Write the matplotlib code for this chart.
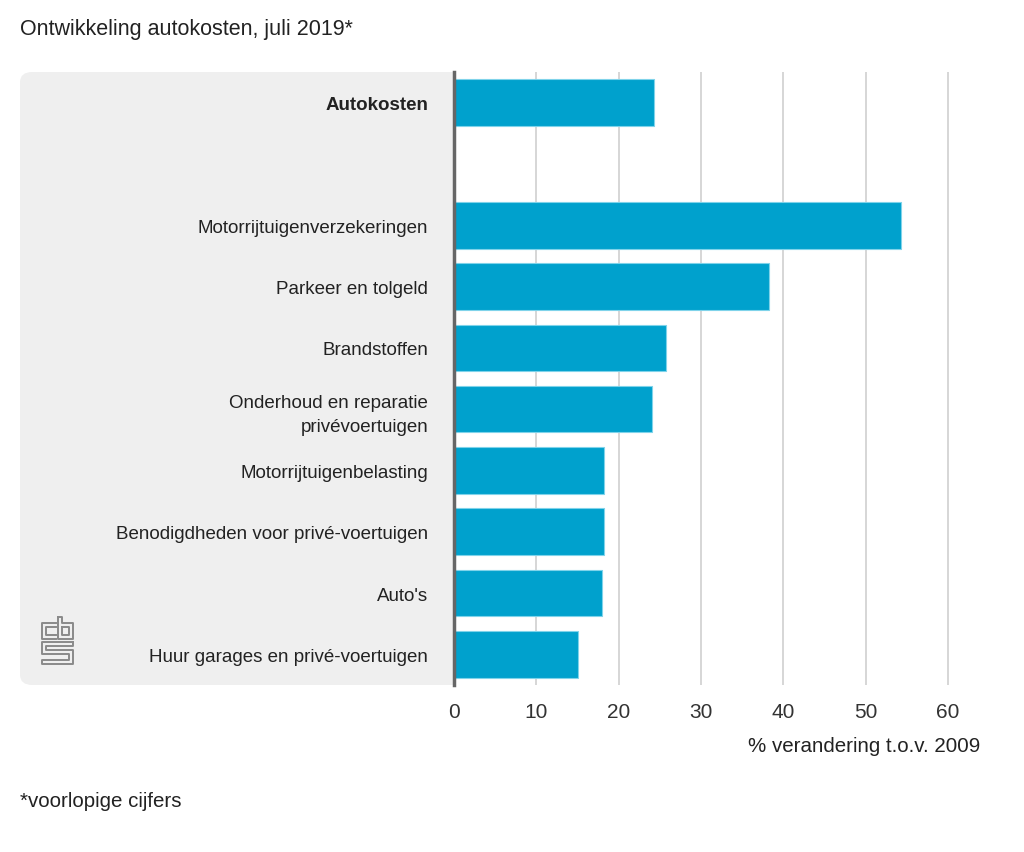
import matplotlib
matplotlib.use("Agg")
import matplotlib.pyplot as plt
from matplotlib.patches import FancyBboxPatch
from matplotlib.lines import Line2D

plt.rcParams['font.family'] = ['Liberation Sans', 'DejaVu Sans']

categories = ["Autokosten", "", "Motorrijtuigenverzekeringen", "Parkeer en tolgeld",
              "Brandstoffen", "Onderhoud en reparatie\nprivévoertuigen",
              "Motorrijtuigenbelasting", "Benodigdheden voor privé-voertuigen",
              "Auto's", "Huur garages en privé-voertuigen"]
values = [24.3, None, 54.3, 38.3, 25.7, 24.0, 18.2, 18.2, 18.0, 15.0]
xticks = [0, 10, 20, 30, 40, 50, 60]

W, H = 1024, 853
fig = plt.figure(figsize=(W / 100, H / 100), dpi=100)

def fx(px):
    return px / W

def fy(py):
    return 1 - py / H

ax_left, ax_right, ax_top, ax_bot = 454, 981, 73, 686
ax = fig.add_axes([fx(ax_left), fy(ax_bot), fx(ax_right - ax_left), (ax_bot - ax_top) / H])
ax.set_facecolor('white')

# grey panel behind labels
panel = FancyBboxPatch((fx(20), fy(686)), fx(470 - 20), (686 - 73) / H,
                       boxstyle="round,pad=0,rounding_size=0.012",
                       transform=fig.transFigure, facecolor='#efefef', edgecolor='none',
                       zorder=-1)
fig.patches.append(panel)

color = '#00a1cd'
ys = list(range(len(categories)))
for y, v in zip(ys, values):
    if v is None:
        continue
    ax.barh(y, v, height=0.76, color=color, edgecolor='#7fd3ea', linewidth=0.8, zorder=3)

ax.set_ylim(len(categories) - 0.5, -0.5)
ax.set_xlim(0, 64)
ax.set_xticks(xticks)
ax.set_xticklabels([str(t) for t in xticks], fontsize=15, color='#333333')
ax.tick_params(axis='x', length=0, pad=12)
ax.set_yticks(ys)
ax.set_yticklabels(categories, fontsize=13.5, color='#222222')
for lbl, c in zip(ax.get_yticklabels(), categories):
    if c == "Autokosten":
        lbl.set_fontweight('bold')
    lbl.set_linespacing(1.55)
ax.tick_params(axis='y', length=0, pad=18.5)

ax.grid(axis='x', color='#d0d0d0', linewidth=1.2, zorder=0)
ax.set_axisbelow(True)
for s in ['top', 'right', 'bottom']:
    ax.spines[s].set_visible(False)
ax.spines['left'].set_color('#666666')
ax.spines['left'].set_linewidth(2.5)
ax.spines['left'].set_zorder(5)

fig.text(fx(20), fy(30), "Ontwikkeling autokosten, juli 2019*", fontsize=15.5, color='#222222',
         ha='left', va='center')
fig.text(fx(980), fy(747), "% verandering t.o.v. 2009", fontsize=14.8, color='#222222',
         ha='right', va='center')
fig.text(fx(20), fy(802), "*voorlopige cijfers", fontsize=14.8, color='#222222',
         ha='left', va='center')

# cbs logo approximation
def poly(pts):
    xs = [fx(p[0]) for p in pts]
    ys_ = [fy(p[1]) for p in pts]
    fig.add_artist(Line2D(xs, ys_, color='#8a8a8a', linewidth=1.4, transform=fig.transFigure))

# c
poly([(56, 624), (42, 624), (42, 640), (56, 640)])
poly([(56, 628), (46, 628), (46, 636), (56, 636)])
# b
poly([(58, 618), (58, 640), (73, 640), (73, 624), (62, 624), (62, 618), (58, 618)])
poly([(62, 628), (69, 628), (69, 636), (62, 636), (62, 628)])
# s
poly([(73, 643), (42, 643), (42, 655), (69, 655), (69, 661), (42, 661), (42, 665), (73, 665),
      (73, 651), (46, 651), (46, 647), (73, 647), (73, 643)])

fig.savefig("out.png", dpi=100)
